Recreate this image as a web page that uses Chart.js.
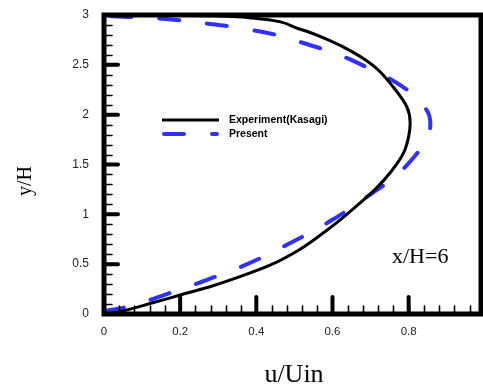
<!DOCTYPE html>
<html lang="en">
<head>
    <meta charset="UTF-8">
    <title>Velocity profile x/H=6</title>
    <style>
        body {
            margin: 0;
            background: #fff;
        }
    </style>
</head>
<body>
    <canvas id="myChart" width="483" height="387"></canvas>
    <script src="https://cdn.jsdelivr.net/npm/chart.js@4.4.0/dist/chart.umd.min.js"></script>
    <script>
        // Experiment (Kasagi) profile, bottom wall to top wall
        const expU = [0.02, 0.042, 0.121, 0.2, 0.278, 0.357, 0.436, 0.512, 0.563, 0.622, 0.659, 0.712, 0.754, 0.787, 0.8, 0.804, 0.795, 0.759, 0.714, 0.657, 0.589, 0.513, 0.39, 0.3, 0.18, 0.05];
        const expY = [0.01, 0.025, 0.105, 0.19, 0.274, 0.375, 0.49, 0.643, 0.777, 0.95, 1.07, 1.25, 1.43, 1.62, 1.78, 1.92, 2.08, 2.28, 2.47, 2.62, 2.75, 2.86, 2.97, 2.99, 2.998, 3.0];

        // Present computation
        const presU = [0.0, 0.06, 0.12, 0.18, 0.248, 0.31, 0.37, 0.427, 0.488, 0.54, 0.602, 0.654, 0.711, 0.759, 0.812, 0.847, 0.857, 0.851, 0.812, 0.755, 0.698, 0.637, 0.58, 0.51, 0.453, 0.388, 0.322, 0.256, 0.19, 0.125, 0.064, 0.0];
        const presY = [0.03, 0.07, 0.14, 0.22, 0.31, 0.40, 0.49, 0.59, 0.71, 0.815, 0.95, 1.08, 1.23, 1.36, 1.565, 1.75, 1.9, 2.02, 2.20, 2.35, 2.46, 2.57, 2.65, 2.735, 2.80, 2.85, 2.89, 2.92, 2.95, 2.97, 2.98, 2.99];

        const xTicks = [0, 0.2, 0.4, 0.6, 0.8];
        const yTicks = [0, 0.5, 1, 1.5, 2, 2.5, 3];
        const xMinorStep = 0.04;
        const yMinorStep = 0.1;

        const toPoints = (us, ys) => us.map((u, i) => ({ x: u, y: ys[i] }));

        const blue = 'rgb(48, 48, 255)';
        const serif = '"Liberation Serif", "Times New Roman", serif';
        const sans = '"Liberation Sans", Arial, sans-serif';

        // thick frame with inward ticks, titles, legend and label
        const framePlugin = {
            id: 'frame',
            afterDatasetsDraw(chart) {
                const ctx = chart.ctx;
                const a = chart.chartArea;
                const xs = chart.scales.x;
                const ys = chart.scales.y;
                ctx.save();
                ctx.strokeStyle = '#000';
                ctx.lineCap = 'round';

                // minor ticks
                ctx.lineWidth = 1.6;
                ctx.beginPath();
                for (let v = yMinorStep; v < 3; v += yMinorStep) {
                    const py = Math.round(ys.getPixelForValue(v)) + 0.5;
                    ctx.moveTo(a.left, py);
                    ctx.lineTo(a.left + 8, py);
                }
                for (let v = xMinorStep; v < xs.max; v += xMinorStep) {
                    const px = Math.round(xs.getPixelForValue(v)) + 0.5;
                    ctx.moveTo(px, a.bottom);
                    ctx.lineTo(px, a.bottom - 8);
                }
                ctx.stroke();

                // major ticks
                ctx.lineWidth = 4;
                ctx.beginPath();
                yTicks.forEach(v => {
                    const py = ys.getPixelForValue(v);
                    ctx.moveTo(a.left, py);
                    ctx.lineTo(a.left + 14, py);
                });
                xTicks.forEach(v => {
                    const px = xs.getPixelForValue(v);
                    ctx.moveTo(px, a.bottom);
                    ctx.lineTo(px, a.bottom - 17);
                });
                ctx.stroke();

                // frame
                ctx.lineWidth = 5;
                ctx.lineCap = 'butt';
                ctx.strokeRect(a.left, a.top, a.right - a.left, a.bottom - a.top);

                // legend
                ctx.lineWidth = 3;
                ctx.beginPath();
                ctx.moveTo(162, 120);
                ctx.lineTo(219, 120);
                ctx.stroke();
                ctx.strokeStyle = blue;
                ctx.lineWidth = 4;
                ctx.lineCap = 'round';
                ctx.setLineDash([20, 28]);
                ctx.beginPath();
                ctx.moveTo(164, 134);
                ctx.lineTo(217, 134);
                ctx.stroke();
                ctx.setLineDash([]);

                ctx.fillStyle = '#000';
                ctx.font = 'bold 10.5px ' + sans;
                ctx.textAlign = 'left';
                ctx.textBaseline = 'middle';
                ctx.fillText('Experiment(Kasagi)', 229, 120);
                ctx.fillText('Present', 229, 134);

                // station label
                ctx.font = '22px ' + serif;
                ctx.textBaseline = 'alphabetic';
                ctx.fillText('x/H=6', 392, 263);

                // axis titles
                ctx.font = '26px ' + serif;
                ctx.textAlign = 'center';
                ctx.fillText('u/Uin', 294, 382);

                ctx.translate(31, 181);
                ctx.rotate(-Math.PI / 2);
                ctx.font = '20px ' + serif;
                ctx.fillText('y/H', 0, 0);
                ctx.restore();
            }
        };

        const ctx = document.getElementById('myChart').getContext('2d');
        const chart = new Chart(ctx, {
            type: 'line',
            data: {
                datasets: [{
                    label: 'Experiment(Kasagi)',
                    data: toPoints(expU, expY),
                    borderColor: '#000',
                    borderWidth: 3,
                    pointRadius: 0,
                    cubicInterpolationMode: 'monotone'
                }, {
                    label: 'Present',
                    data: toPoints(presU, presY),
                    borderColor: blue,
                    borderWidth: 4,
                    borderDash: [20, 28],
                    borderCapStyle: 'round',
                    pointRadius: 0,
                    cubicInterpolationMode: 'monotone'
                }]
            },
            options: {
                indexAxis: 'y',
                responsive: false,
                animation: false,
                layout: {
                    padding: { top: 15, right: 2, left: 0, bottom: 0 }
                },
                plugins: {
                    legend: { display: false },
                    tooltip: { enabled: false }
                },
                scales: {
                    x: {
                        type: 'linear',
                        min: 0,
                        max: 0.99,
                        afterBuildTicks: s => { s.ticks = xTicks.map(v => ({ value: v })); },
                        afterFit: s => {
                            s.height = 73;
                            s.paddingLeft = 0;
                            s.paddingRight = 0;
                        },
                        grid: { display: false, drawTicks: false },
                        border: { display: false },
                        ticks: {
                            padding: 11,
                            color: '#222',
                            font: { family: sans, size: 11.5 },
                            callback: v => String(v)
                        }
                    },
                    y: {
                        type: 'linear',
                        min: 0,
                        max: 3,
                        afterBuildTicks: s => { s.ticks = yTicks.map(v => ({ value: v })); },
                        afterFit: s => {
                            s.width = 104;
                            s.paddingTop = 0;
                            s.paddingBottom = 0;
                        },
                        grid: { display: false, drawTicks: false },
                        border: { display: false },
                        ticks: {
                            padding: 15,
                            color: '#222',
                            font: { family: sans, size: 12 },
                            callback: v => String(v)
                        }
                    }
                }
            },
            plugins: [framePlugin]
        });
    </script>
</body>
</html>
